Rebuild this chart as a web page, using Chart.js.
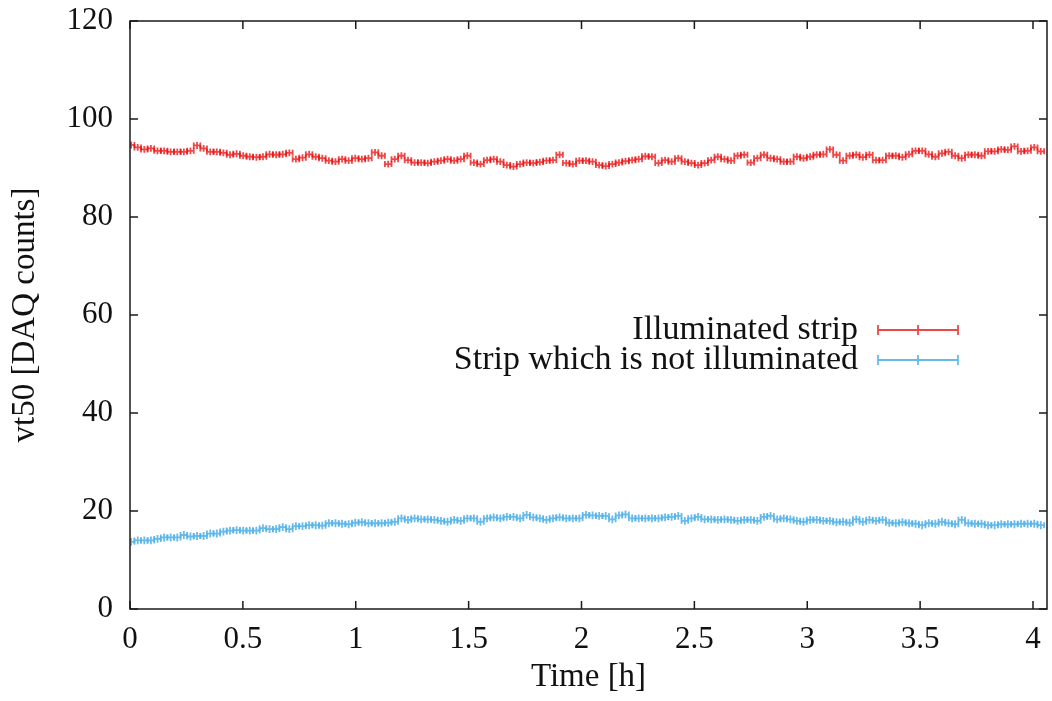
<!DOCTYPE html>
<html>
<head>
<meta charset="utf-8">
<script src="https://cdn.jsdelivr.net/npm/chart.js@4.4.0/dist/chart.umd.min.js"></script>
<style>
  html, body { margin: 0; padding: 0; background: #fff; }
  #wrap { width: 1052px; height: 701px; }
</style>
</head>
<body>
<div id="wrap"><canvas id="chart" width="1052" height="701"></canvas></div>
<script>
const seriesNames = ['Illuminated strip', 'Strip which is not illuminated'];
const seriesColors = ['rgba(232, 10, 10, 0.75)', 'rgba(86, 180, 233, 0.9)'];

// sampling of the measurement (hours)
const sampleStart = 0.005;
const sampleStep = 0.0292;

const illuminated = [
    94.7, 94.2, 93.8, 94.0, 93.5, 93.5, 93.3, 93.3, 93.3, 93.5,
    94.6, 94.0, 93.3, 93.3, 93.1, 92.7, 92.9, 92.5, 92.3, 92.2,
    92.3, 92.8, 92.7, 92.8, 93.1, 91.8, 92.1, 92.8, 92.3, 92.0,
    91.5, 91.3, 91.8, 91.5, 92.0, 91.8, 92.0, 93.2, 92.5, 90.8,
    91.8, 92.5, 91.6, 91.1, 91.1, 91.0, 91.3,
    91.5, 91.8, 91.5, 91.8, 92.5, 91.1, 90.8, 91.6, 91.8, 91.3,
    90.6, 90.3, 90.8, 91.1, 91.0, 91.2, 91.5, 91.6, 92.7, 91.0,
    90.8, 91.5, 91.5, 91.3, 90.6, 90.4, 90.8, 91.1, 91.4, 91.6,
    91.8, 92.4, 92.3, 91.0, 91.6, 91.3, 92.0, 91.3, 91.0, 90.6,
    91.0, 91.6, 92.3, 91.8, 91.5, 92.5,
    92.7, 91.1, 92.0, 92.7, 92.0, 91.8, 91.3, 91.3, 92.3, 92.0,
    92.3, 92.7, 92.8, 93.8, 92.7, 91.5, 92.5, 92.7, 92.2, 92.7,
    91.6, 91.6, 92.5, 92.5, 92.2, 92.8, 93.5, 93.5, 92.8, 92.3,
    93.0, 93.3, 92.5, 92.0, 92.7, 92.7, 92.5, 93.4, 93.4, 93.8,
    93.7, 94.4, 93.4, 93.5, 94.2, 93.4
];

const notIlluminated = [
    13.7, 14.0, 14.0, 14.0, 14.3, 14.6, 14.6, 14.6, 15.1, 14.8,
    14.9, 14.9, 15.4, 15.4, 15.8, 16.0, 16.1, 16.0, 16.0, 16.0,
    16.5, 16.3, 16.3, 16.7, 16.3, 16.9, 16.9, 17.1, 17.1, 17.0,
    17.5, 17.5, 17.4, 17.3, 17.6, 17.7, 17.5, 17.5, 17.5, 17.6,
    17.8, 18.5, 18.2, 18.5, 18.3, 18.3, 18.2,
    18.0, 17.8, 18.2, 18.0, 18.5, 18.5, 17.8, 18.5, 18.7, 18.5,
    18.8, 18.8, 18.5, 19.2, 18.7, 18.5, 18.2, 18.5, 18.7, 18.5,
    18.5, 18.5, 19.2, 19.1, 19.0, 19.0, 18.3, 19.1, 19.3, 18.5,
    18.5, 18.5, 18.5, 18.5, 18.7, 18.8, 19.0, 18.0, 18.5, 18.8,
    18.3, 18.3, 18.2, 18.3, 18.2, 18.0,
    18.2, 18.2, 18.0, 18.8, 19.0, 18.3, 18.5, 18.3, 18.0, 17.8,
    18.2, 18.2, 18.0, 18.0, 17.7, 17.8, 17.6, 18.3, 17.8, 18.2,
    18.0, 18.2, 17.6, 17.5, 17.7, 17.5, 17.4, 17.1, 17.5, 17.4,
    17.8, 17.5, 17.3, 18.2, 17.5, 17.4, 17.4, 17.1, 17.1, 17.3,
    17.3, 17.3, 17.4, 17.4, 17.4, 17.1
];

// y uncertainty of each series
const illuminatedErr = 0.7;
const notIlluminatedErr = 0.8;

const xTicks = [0, 0.5, 1, 1.5, 2, 2.5, 3, 3.5, 4];
const yTicks = [0, 20, 40, 60, 80, 100, 120];

const FONT = '"Liberation Serif", "DejaVu Serif", serif';
const TICK_SIZE = 31;
const TITLE_SIZE = 33;
const KEY_SIZE = 34;

function toPoints(values, yErr) {
    return values.map(function (v, i) {
        return { x: sampleStart + i * sampleStep, y: v, xErr: sampleStep / 2, yErr: yErr };
    });
}

// gnuplot style xyerrorbars
const errorBars = {
    id: 'errorBars',
    afterDatasetsDraw(chart) {
        const ctx = chart.ctx;
        const xs = chart.scales.x;
        const ys = chart.scales.y;
        const a = chart.chartArea;
        ctx.save();
        ctx.beginPath();
        ctx.rect(a.left, a.top, a.right - a.left, a.bottom - a.top);
        ctx.clip();
        chart.data.datasets.forEach(function (ds) {
            ctx.strokeStyle = ds.borderColor;
            ctx.lineWidth = 1.8;
            ds.data.forEach(function (p) {
                const px = xs.getPixelForValue(p.x);
                const py = ys.getPixelForValue(p.y);
                const x0 = xs.getPixelForValue(p.x - p.xErr);
                const x1 = xs.getPixelForValue(p.x + p.xErr);
                const y0 = ys.getPixelForValue(p.y - p.yErr);
                const y1 = ys.getPixelForValue(p.y + p.yErr);
                ctx.beginPath();
                ctx.moveTo(x0, py); ctx.lineTo(x1, py);
                ctx.moveTo(x0, py - 3); ctx.lineTo(x0, py + 3);
                ctx.moveTo(x1, py - 3); ctx.lineTo(x1, py + 3);
                ctx.moveTo(px, y0); ctx.lineTo(px, y1);
                ctx.stroke();
            });
        });
        ctx.restore();
    }
};

// border box with inward, mirrored ticks
const frame = {
    id: 'frame',
    afterDraw(chart) {
        const ctx = chart.ctx;
        const a = chart.chartArea;
        const xs = chart.scales.x;
        const ys = chart.scales.y;
        const len = 8;
        ctx.save();
        ctx.strokeStyle = '#1a1a1a';
        ctx.lineWidth = 1.5;
        ctx.strokeRect(a.left, a.top, a.right - a.left, a.bottom - a.top);
        ctx.beginPath();
        xTicks.forEach(function (t) {
            const px = xs.getPixelForValue(t);
            ctx.moveTo(px, a.bottom); ctx.lineTo(px, a.bottom - len);
            ctx.moveTo(px, a.top); ctx.lineTo(px, a.top + len);
        });
        yTicks.forEach(function (t) {
            const py = ys.getPixelForValue(t);
            ctx.moveTo(a.left, py); ctx.lineTo(a.left + len, py);
            ctx.moveTo(a.right, py); ctx.lineTo(a.right - len, py);
        });
        ctx.stroke();
        ctx.restore();
    }
};

// key placed inside the plot, text right aligned, sample on the right
const keyBox = {
    id: 'keyBox',
    afterDraw(chart) {
        const ctx = chart.ctx;
        const a = chart.chartArea;
        const textRight = a.right - 189;
        const s0 = a.right - 169;
        const s1 = a.right - 89;
        ctx.save();
        ctx.font = KEY_SIZE + 'px ' + FONT;
        ctx.textAlign = 'right';
        ctx.textBaseline = 'alphabetic';
        chart.data.datasets.forEach(function (ds, i) {
            const y = a.top + 309 + i * 30;
            ctx.fillStyle = '#111';
            ctx.fillText(ds.label, textRight, y + 9);
            ctx.strokeStyle = ds.borderColor;
            ctx.lineWidth = 1.8;
            ctx.beginPath();
            ctx.moveTo(s0, y); ctx.lineTo(s1, y);
            ctx.moveTo(s0, y - 5); ctx.lineTo(s0, y + 5);
            ctx.moveTo(s1, y - 5); ctx.lineTo(s1, y + 5);
            ctx.moveTo((s0 + s1) / 2, y - 5); ctx.lineTo((s0 + s1) / 2, y + 5);
            ctx.stroke();
        });
        ctx.restore();
    }
};

const ctx = document.getElementById('chart').getContext('2d');
new Chart(ctx, {
    type: 'scatter',
    data: {
        datasets: [{
            label: seriesNames[0],
            data: toPoints(illuminated, illuminatedErr),
            borderColor: seriesColors[0],
            backgroundColor: seriesColors[0],
            pointRadius: 0,
            showLine: false
        }, {
            label: seriesNames[1],
            data: toPoints(notIlluminated, notIlluminatedErr),
            borderColor: seriesColors[1],
            backgroundColor: seriesColors[1],
            pointRadius: 0,
            showLine: false
        }]
    },
    options: {
        responsive: false,
        animation: false,
        layout: { padding: { top: 21, right: 5, left: 0, bottom: 0 } },
        plugins: {
            legend: { display: false },
            tooltip: { enabled: false }
        },
        scales: {
            x: {
                type: 'linear',
                min: 0,
                max: 4.062,
                grid: { display: false },
                border: { display: false },
                afterBuildTicks: function (scale) {
                    scale.ticks = xTicks.map(function (v) { return { value: v }; });
                },
                afterFit: function (scale) {
                    scale.height = 92;
                    scale.paddingLeft = 0;
                    scale.paddingRight = 0;
                },
                ticks: {
                    color: '#111',
                    padding: 4,
                    maxRotation: 0,
                    autoSkip: false,
                    font: { family: FONT, size: TICK_SIZE },
                    callback: function (v) { return String(v); }
                },
                title: {
                    display: true,
                    text: 'Time [h]',
                    color: '#111',
                    padding: { top: 0, bottom: 4 },
                    font: { family: FONT, size: TITLE_SIZE }
                }
            },
            y: {
                type: 'linear',
                min: 0,
                max: 120,
                grid: { display: false },
                border: { display: false },
                afterBuildTicks: function (scale) {
                    scale.ticks = yTicks.map(function (v) { return { value: v }; });
                },
                afterFit: function (scale) {
                    scale.width = 130;
                    scale.paddingTop = 0;
                    scale.paddingBottom = 0;
                },
                ticks: {
                    color: '#111',
                    padding: 9,
                    font: { family: FONT, size: TICK_SIZE }
                },
                title: {
                    display: true,
                    text: 'vt50 [DAQ counts]',
                    color: '#111',
                    padding: { top: 6, bottom: 0 },
                    font: { family: FONT, size: TITLE_SIZE }
                }
            }
        }
    },
    plugins: [errorBars, frame, keyBox]
});
</script>
</body>
</html>
